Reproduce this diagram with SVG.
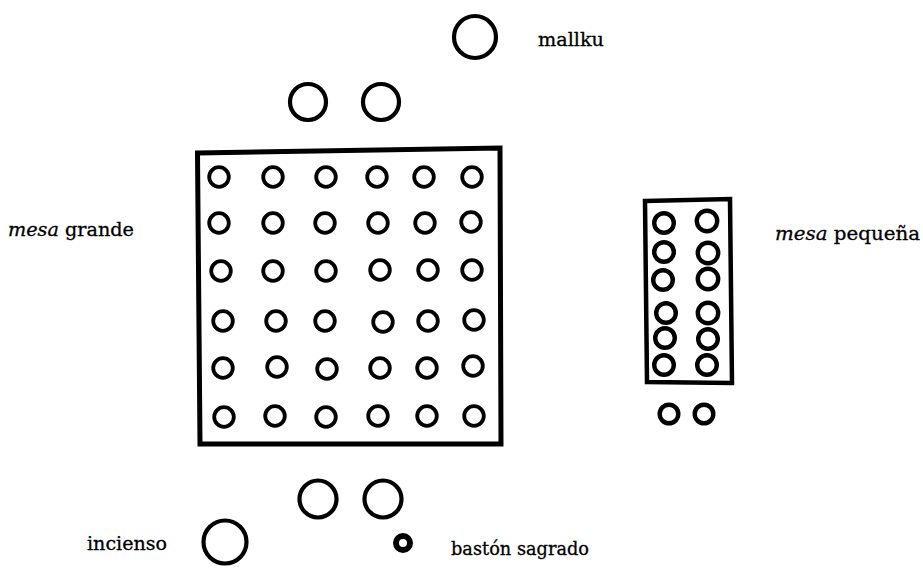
<svg xmlns="http://www.w3.org/2000/svg" width="923" height="568" viewBox="0 0 923 568">
<style>
.o{fill:none;stroke:#000;stroke-width:4.2}
.g{fill:none;stroke:#000;stroke-width:3.8}
.s{fill:none;stroke:#000;stroke-width:4.4}
.t{font-family:"DejaVu Serif","Liberation Serif",serif;font-size:18px;fill:#000;stroke:#000;stroke-width:0.3}
.i{font-style:italic}
.frame{fill:none;stroke:#000;stroke-width:5;stroke-linejoin:miter}
</style>
<rect width="923" height="568" fill="#fff"/>

<g id="mallku">
<circle class="o" cx="475" cy="37" r="21"/>
<text class="t" x="538" y="46" textLength="66" lengthAdjust="spacingAndGlyphs">mallku</text>
</g>

<g id="top-pair">
<circle class="o" cx="308" cy="102" r="18"/>
<circle class="o" cx="381" cy="102" r="18"/>
</g>

<g id="mesa-grande">
<path class="frame" d="M197.5 153 L500 148 L501 444 L200 444 Z"/>
<g>
<circle class="g" cx="219" cy="177" r="9.8"/><circle class="g" cx="273" cy="177" r="9.8"/><circle class="g" cx="326" cy="177" r="9.8"/><circle class="g" cx="377" cy="177" r="9.8"/><circle class="g" cx="424" cy="177" r="9.8"/><circle class="g" cx="472" cy="177" r="9.8"/>
<circle class="g" cx="219" cy="223" r="9.8"/><circle class="g" cx="273" cy="223" r="9.8"/><circle class="g" cx="325" cy="223" r="9.8"/><circle class="g" cx="378" cy="223" r="9.8"/><circle class="g" cx="425" cy="223" r="9.8"/><circle class="g" cx="471" cy="222" r="9.8"/>
<circle class="g" cx="221" cy="271" r="9.8"/><circle class="g" cx="273" cy="271" r="9.8"/><circle class="g" cx="326" cy="271" r="9.8"/><circle class="g" cx="380" cy="270" r="9.8"/><circle class="g" cx="428" cy="270" r="9.8"/><circle class="g" cx="472" cy="270" r="9.8"/>
<circle class="g" cx="223" cy="321" r="9.8"/><circle class="g" cx="276" cy="321" r="9.8"/><circle class="g" cx="325" cy="321" r="9.8"/><circle class="g" cx="383" cy="322" r="9.8"/><circle class="g" cx="428" cy="321" r="9.8"/><circle class="g" cx="474" cy="320" r="9.8"/>
<circle class="g" cx="223" cy="368" r="9.8"/><circle class="g" cx="277" cy="367" r="9.8"/><circle class="g" cx="327" cy="369" r="9.8"/><circle class="g" cx="380" cy="368" r="9.8"/><circle class="g" cx="427" cy="368" r="9.8"/><circle class="g" cx="473" cy="366" r="9.8"/>
<circle class="g" cx="224" cy="417" r="9.8"/><circle class="g" cx="275" cy="416" r="9.8"/><circle class="g" cx="326" cy="417" r="9.8"/><circle class="g" cx="378" cy="416" r="9.8"/><circle class="g" cx="427" cy="416" r="9.8"/><circle class="g" cx="474" cy="416" r="9.8"/>
</g>
<text class="t" x="8" y="236" textLength="126" lengthAdjust="spacingAndGlyphs"><tspan class="i">mesa</tspan> grande</text>
</g>

<g id="mesa-pequena">
<path class="frame" d="M645 201 L730 199 L732 383 L647 382 Z" style="stroke-width:4.5"/>
<circle class="s" cx="664" cy="223" r="9.8"/><circle class="s" cx="707" cy="221" r="10.2"/>
<circle class="s" cx="664" cy="252" r="9.8"/><circle class="s" cx="708" cy="253" r="10.2"/>
<circle class="s" cx="663" cy="280" r="9.8"/><circle class="s" cx="708" cy="279" r="10.2"/>
<circle class="s" cx="666" cy="313" r="9.8"/><circle class="s" cx="708" cy="313" r="10.2"/>
<circle class="s" cx="665" cy="338" r="9.8"/><circle class="s" cx="708" cy="339" r="9.8"/>
<circle class="s" cx="664" cy="365" r="9.8"/><circle class="s" cx="707" cy="365" r="9.8"/>
<text class="t" x="775" y="240" style="font-size:19px" textLength="145" lengthAdjust="spacingAndGlyphs"><tspan class="i">mesa</tspan> pequeña</text>
</g>

<g id="small-pair">
<circle class="s" cx="669" cy="414" r="9.3"/>
<circle class="s" cx="704" cy="414" r="9.3"/>
</g>

<g id="bottom-pair">
<circle class="o" cx="318" cy="499" r="18.5"/>
<circle class="o" cx="383" cy="499" r="18.5"/>
</g>

<g id="incienso">
<circle class="o" cx="225" cy="542" r="21.5"/>
<text class="t" x="87" y="550" textLength="80" lengthAdjust="spacingAndGlyphs">incienso</text>
</g>

<g id="baston-sagrado">
<circle cx="403" cy="543" r="7" fill="none" stroke="#000" stroke-width="6"/>
<text class="t" x="451" y="555" textLength="138" lengthAdjust="spacingAndGlyphs">bastón sagrado</text>
</g>
</svg>
